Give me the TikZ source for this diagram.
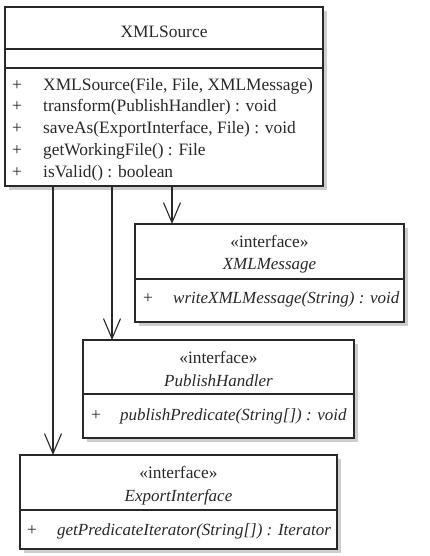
\documentclass[tikz,border=0pt]{standalone}
\usepackage{fontspec}
\setmainfont{Liberation Serif}
\usetikzlibrary{arrows.meta}
\definecolor{shadowc}{RGB}{205,205,205}
\definecolor{ink}{RGB}{40,40,40}
\begin{document}
\begin{tikzpicture}[x=1pt,y=-1pt,
  box/.style={draw=ink, line width=1.1pt, fill=white, anchor=north west, inner sep=0pt, outer sep=0pt},
  sep/.style={draw=ink, line width=1.1pt},
  txt/.style={font=\fontsize{17.4}{20}\selectfont, text=ink, inner sep=0pt},
  itxt/.style={txt, font=\fontsize{17}{20}\selectfont\itshape},
  arr/.style={draw=ink, line width=1.1pt, -{Straight Barb[length=20pt,width=17pt,line width=1.1pt]}}]
\useasboundingbox (0,0) rectangle (430,556);
% shadows
\fill[shadowc] (9,11) rectangle (327,190);
\fill[shadowc] (139,228) rectangle (408,326);
\fill[shadowc] (87,344) rectangle (358,442);
\fill[shadowc] (24,459) rectangle (341,553);
% XMLSource
\node[box, minimum width=318pt, minimum height=179pt] (xml) at (5,7) {};
\draw[sep] (5,49) -- (323,49);
\draw[sep] (5,68) -- (323,68);
\node[txt] (xmlt) at (164,32) {XMLSource};
\node[txt] (p1) at (17,86) {+};
\node[txt, anchor=west] (m1) at (43,86) {XMLSource(File, File, XMLMessage)};
\node[txt] (p2) at (17,107) {+};
\node[txt, anchor=west] (m2) at (43,107) {transform(PublishHandler) : void};
\node[txt] (p3) at (17,129) {+};
\node[txt, anchor=west] (m3) at (43,129) {saveAs(ExportInterface, File) : void};
\node[txt] (p4) at (17,151) {+};
\node[txt, anchor=west] (m4) at (43,151) {getWorkingFile() : File};
\node[txt] (p5) at (17,173) {+};
\node[txt, anchor=west] (m5) at (43,173) {isValid() : boolean};
% XMLMessage
\node[box, minimum width=269pt, minimum height=98pt] (msg) at (135,224) {};
\draw[sep] (135,279) -- (404,279);
\node[txt] (msgs) at (269.5,241) {«interface»};
\node[itxt] (msgt) at (269.5,266) {XMLMessage};
\node[txt] (msgp) at (148,299) {+};
\node[itxt, anchor=west] (msgm) at (173,299) {writeXMLMessage(String) : void};
% PublishHandler
\node[box, minimum width=271pt, minimum height=98pt] (pub) at (83,340) {};
\draw[sep] (83,394) -- (354,394);
\node[txt] (pubs) at (218.5,357) {«interface»};
\node[itxt] (pubt) at (218.5,381) {PublishHandler};
\node[txt] (pubp) at (96,416) {+};
\node[itxt, anchor=west] (pubm) at (120,416) {publishPredicate(String[]) : void};
% ExportInterface
\node[box, minimum width=317pt, minimum height=94pt] (exp) at (20,455) {};
\draw[sep] (20,510) -- (337,510);
\node[txt] (exps) at (178.5,472) {«interface»};
\node[itxt] (expt) at (178.5,497) {ExportInterface};
\node[txt] (expp) at (32,531) {+};
\node[itxt, anchor=west] (expm) at (57,531) {getPredicateIterator(String[]) : Iterator};
% connectors
\coordinate (s1) at (53,186);
\coordinate (s2) at (112,186);
\coordinate (s3) at (172,186);
\draw[arr] (s1) -- (s1 |- exp.north);
\draw[arr] (s2) -- (s2 |- pub.north);
\draw[arr] (s3) -- (s3 |- msg.north);
\end{tikzpicture}
\end{document}
